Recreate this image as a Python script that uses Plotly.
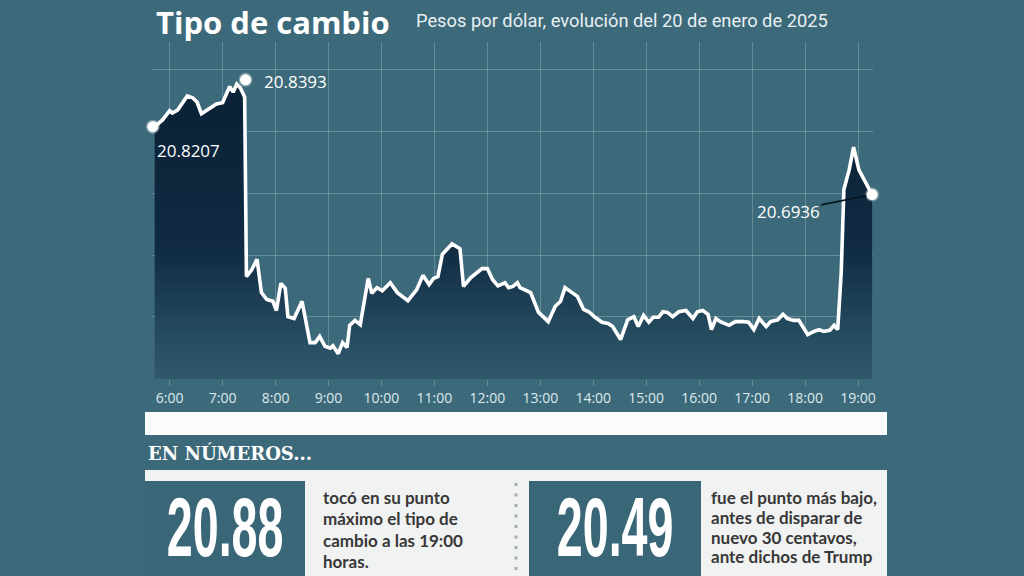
import plotly.graph_objects as go

# ---------------- data ----------------
DAY = "2025-01-20"
times = ["05:43", "05:52", "06:00", "06:03", "06:09", "06:20", "06:26", "06:31", "06:36", "06:43",
         "06:53", "07:00", "07:05", "07:08", "07:12", "07:16", "07:20", "07:23", "07:25", "07:27",
         "07:33", "07:39", "07:44", "07:50", "07:57", "08:01", "08:06", "08:11", "08:14", "08:21",
         "08:30", "08:39", "08:45", "08:50", "08:56", "09:02", "09:05", "09:11", "09:16", "09:21",
         "09:24", "09:30", "09:36", "09:45", "09:49", "09:55", "10:01", "10:10", "10:18", "10:30",
         "10:40", "10:47", "10:54", "10:59", "11:04", "11:09", "11:20", "11:29", "11:33", "11:41",
         "11:54", "12:00", "12:06", "12:12", "12:20", "12:24", "12:29", "12:34", "12:37", "12:49",
         "12:58", "13:09", "13:17", "13:23", "13:28", "13:36", "13:42", "13:49", "13:55", "14:02",
         "14:10", "14:17", "14:22", "14:31", "14:39", "14:46", "14:51", "14:57", "15:03", "15:08",
         "15:14", "15:19", "15:24", "15:30", "15:37", "15:45", "15:53", "15:58", "16:04", "16:10",
         "16:14", "16:19", "16:24", "16:34", "16:41", "16:50", "16:56", "17:02", "17:08", "17:16",
         "17:21", "17:29", "17:35", "17:40", "17:47", "17:53", "18:03", "18:10", "18:16", "18:21",
         "18:28", "18:33", "18:37", "18:41", "18:44", "18:50", "18:55", "19:01", "19:07", "19:11",
         "19:16"]
rate = [20.808, 20.819, 20.834, 20.830, 20.835, 20.858, 20.855, 20.848, 20.829, 20.835,
        20.845, 20.847, 20.863, 20.873, 20.864, 20.877, 20.871, 20.863, 20.856, 20.565,
        20.576, 20.593, 20.539, 20.528, 20.525, 20.510, 20.554, 20.546, 20.500, 20.497,
        20.525, 20.458, 20.458, 20.468, 20.452, 20.449, 20.453, 20.440, 20.458, 20.450,
        20.486, 20.494, 20.487, 20.562, 20.538, 20.547, 20.542, 20.555, 20.539, 20.526,
        20.544, 20.567, 20.552, 20.562, 20.565, 20.601, 20.618, 20.610, 20.549, 20.563,
        20.578, 20.578, 20.560, 20.550, 20.555, 20.547, 20.549, 20.555, 20.547, 20.539,
        20.507, 20.492, 20.517, 20.525, 20.547, 20.539, 20.533, 20.512, 20.508, 20.499,
        20.491, 20.489, 20.484, 20.463, 20.495, 20.500, 20.484, 20.502, 20.491, 20.499,
        20.499, 20.508, 20.507, 20.500, 20.508, 20.510, 20.497, 20.508, 20.510, 20.504,
        20.479, 20.497, 20.492, 20.486, 20.492, 20.492, 20.491, 20.479, 20.497, 20.484,
        20.492, 20.495, 20.504, 20.497, 20.494, 20.494, 20.471, 20.476, 20.479, 20.476,
        20.478, 20.486, 20.479, 20.572, 20.706, 20.738, 20.775, 20.738, 20.722, 20.709,
        20.698]

label_times = ["05:41", "07:26", "19:16"]
label_values = [20.808, 20.884, 20.698]
label_texts = ["20.8207", "20.8393", "20.6936"]

tick_hours = ["06:00", "07:00", "08:00", "09:00", "10:00", "11:00", "12:00",
              "13:00", "14:00", "15:00", "16:00", "17:00", "18:00", "19:00"]
tick_labels = ["6:00", "7:00", "8:00", "9:00", "10:00", "11:00", "12:00",
               "13:00", "14:00", "15:00", "16:00", "17:00", "18:00", "19:00"]

title_text = "Tipo de cambio"
subtitle_text = "Pesos por dólar, evolución del 20 de enero de 2025"
section_title = "EN NÚMEROS..."
stat_values = ["20.88", "20.49"]
stat_texts = [["tocó en su punto", "máximo el tipo de", "cambio a las 19:00", "horas."],
              ["fue el punto más bajo,", "antes de disparar de", "nuevo 30 centavos,", "ante dichos de Trump"]]

# ---------------- style ----------------
BG = "#3d6a7a"
NAVY = "#0a2136"
GRID = "rgba(255,255,255,0.22)"
L, T, R, B = 152, 42, 151, 197
W, H = 1024 - L - R, 576 - T - B


def px(x):
    return (x - L) / W


def py(y):
    return 1 - (y - T) / H


def ts(t):
    return f"{DAY} {t}:00"


fig = go.Figure()

fig.add_trace(go.Scatter(
    x=[ts(t) for t in times], y=rate, mode="lines",
    line=dict(color="white", width=3.6),
    fill="tozeroy",
    fillgradient=dict(type="vertical",
                      colorscale=[[0, "#31596a"], [0.15, "#254b5f"], [0.3, "#1a3a50"],
                                  [0.45, "#0f2a41"], [1, NAVY]],
                      start=20.40, stop=20.88),
    hoverinfo="skip"))

fig.add_trace(go.Scatter(
    x=[ts(t) for t in label_times], y=label_values, mode="markers",
    marker=dict(size=11, color="white", line=dict(color="rgba(255,255,255,0.35)", width=3)),
    cliponaxis=False, hoverinfo="skip"))

ann = []
lab_font = dict(family="Open Sans", size=17, color="white")
ann.append(dict(x=ts(label_times[0]), y=label_values[0], text=label_texts[0], showarrow=False,
                xanchor="left", yanchor="middle", xshift=2, yshift=-24, font=lab_font))
ann.append(dict(x=ts(label_times[1]), y=label_values[1], text=label_texts[1], showarrow=False,
                xanchor="left", yanchor="middle", xshift=16, yshift=-2, font=lab_font))
ann.append(dict(x=ts(label_times[2]), y=label_values[2], text=label_texts[2], showarrow=True,
                arrowhead=0, arrowwidth=1.6, arrowcolor="#08141f", ax=-84, ay=17,
                standoff=6, font=lab_font))

# title
ann.append(dict(xref="paper", yref="paper", x=px(154), y=py(22), text=f"<b>{title_text}</b>",
                showarrow=False, xanchor="left", yanchor="middle",
                font=dict(family="Open Sans", size=31, color="white")))
ann.append(dict(xref="paper", yref="paper", x=px(414), y=py(21), text=subtitle_text,
                showarrow=False, xanchor="left", yanchor="middle",
                font=dict(family="Roboto", size=18.3, color="#e8eff2")))

# bottom section
shapes = []
shapes.append(dict(type="rect", xref="paper", yref="paper", x0=px(145), x1=px(887),
                   y0=py(435), y1=py(412), fillcolor="#fbfcfc", line=dict(width=0)))
shapes.append(dict(type="rect", xref="paper", yref="paper", x0=px(145), x1=px(887),
                   y0=py(576), y1=py(470), fillcolor="#f1f2f2", line=dict(width=0)))
shapes.append(dict(type="rect", xref="paper", yref="paper", x0=px(145), x1=px(305),
                   y0=py(577), y1=py(481), fillcolor="#3a6777", line=dict(width=0)))
shapes.append(dict(type="rect", xref="paper", yref="paper", x0=px(529), x1=px(701),
                   y0=py(577), y1=py(481), fillcolor="#3a6777", line=dict(width=0)))
shapes.append(dict(type="line", xref="paper", yref="paper", x0=px(516), x1=px(516),
                   y0=py(483), y1=py(576), line=dict(color="#a9adb0", width=3, dash="3px,7.5px")))

ann.append(dict(xref="paper", yref="paper", x=px(146), y=py(453), text=f"<b>{section_title}</b>",
                showarrow=False, xanchor="left", yanchor="middle",
                font=dict(family="DejaVu Serif", size=18, color="white")))

stat_font = dict(family="Liberation Sans, Arial, sans-serif", size=84, color="white")
ann.append(dict(xref="paper", yref="paper", x=px(225), y=py(527), text=f"<b>{stat_values[0]}</b>",
                showarrow=False, xanchor="center", yanchor="middle", font=stat_font))
ann.append(dict(xref="paper", yref="paper", x=px(615), y=py(527), text=f"<b>{stat_values[1]}</b>",
                showarrow=False, xanchor="center", yanchor="middle", font=stat_font))

body_font = dict(family="Lato", size=17, color="#383838", weight=700)
line_y = [[497, 518.5, 540, 561.5], [497, 517, 537, 556]]
text_x = [321, 709]
for k in range(2):
    for j, line in enumerate(stat_texts[k]):
        ann.append(dict(xref="paper", yref="paper", x=px(text_x[k]), y=py(line_y[k][j]), text=line,
                        showarrow=False, xanchor="left", yanchor="middle", align="left",
                        font=body_font))

fig.update_layout(
    width=1024, height=576,
    margin=dict(l=L, r=R, t=T, b=B),
    paper_bgcolor=BG, plot_bgcolor=BG,
    showlegend=False,
    annotations=ann, shapes=shapes,
    xaxis=dict(type="date", range=[ts("05:40"), ts("19:17")],
               tickvals=[ts(t) for t in tick_hours], ticktext=tick_labels,
               showgrid=True, gridcolor=GRID, gridwidth=1,
               ticks="outside", ticklen=6, tickcolor=GRID, tickwidth=1,
               tickfont=dict(family="Open Sans", size=14, color="#dfe9ed"),
               zeroline=False, showline=False, fixedrange=True),
    yaxis=dict(range=[20.399, 20.40 + H / 618], tick0=20.4, dtick=0.1,
               showgrid=True, gridcolor=GRID, gridwidth=1,
               showticklabels=False, zeroline=False, showline=False, fixedrange=True),
)

post = """
document.body.style.margin='0';
document.body.style.overflow='hidden';
document.body.style.background='#3d6a7a';
function squeezeNums(){
  document.querySelectorAll('text.annotation-text').forEach(function(t){
    if(/^20\\.\\d\\d$/.test(t.textContent.trim())){
      t.removeAttribute('transform');
      var bb=t.getBBox(); var cx=bb.x+bb.width/2;
      t.setAttribute('transform','translate('+cx+',0) scale(0.555,1) translate('+(-cx)+',0)');
    }
  });
}
squeezeNums(); setTimeout(squeezeNums,50); setTimeout(squeezeNums,300);
"""

fig.write_html("out.html", post_script=post, config={"displayModeBar": False})
